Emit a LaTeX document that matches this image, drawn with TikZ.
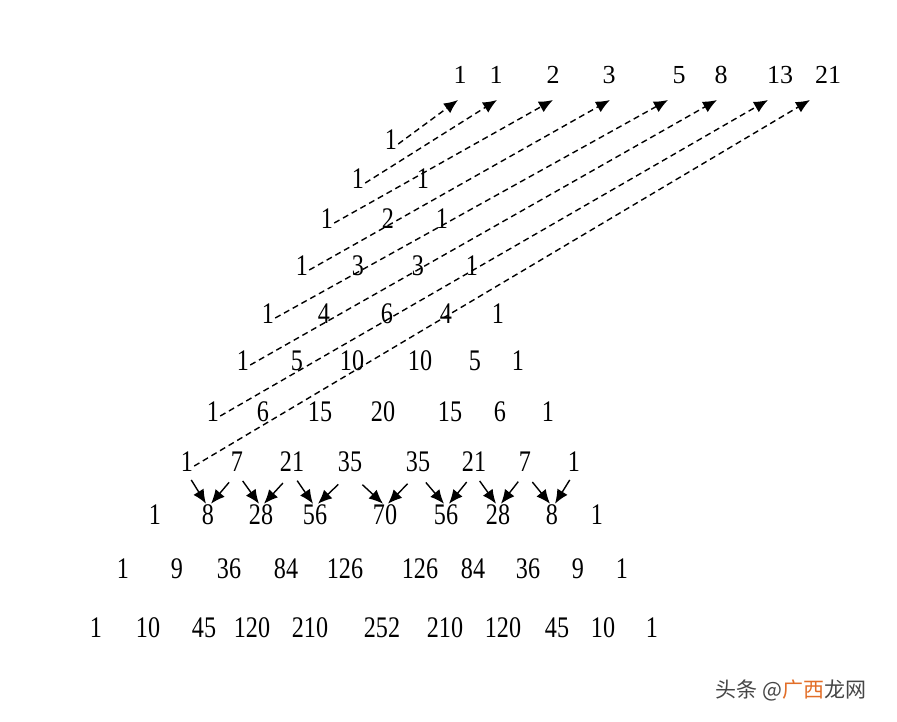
\documentclass[tikz,border=0pt]{standalone}
\usepackage{fontspec}
\setmainfont{Liberation Serif}
\newfontfamily\cjk{Noto Sans CJK SC}
\usetikzlibrary{arrows.meta,calc}
\newcommand{\tall}[1]{\scalebox{1.05}[1.3]{#1}}
\tikzset{
  >={Latex[length=14pt,width=12pt]},
  num/.style={inner sep=1pt, font=\fontsize{23}{26}\selectfont},
  fib/.style={inner sep=1pt, font=\fontsize{26}{29}\selectfont},
  fibline/.style={line width=1.4pt, dash pattern=on 6pt off 4pt},
  addline/.style={line width=1.4pt}
}
\definecolor{wmgray}{RGB}{70,70,70}
\definecolor{wmorange}{RGB}{226,110,40}
\begin{document}
\begin{tikzpicture}[x=1pt, y=-1pt]
\useasboundingbox (0,0) rectangle (897,721);
	% fibonacci numbers on top
	\foreach \x/\v [count=\i] in {460/1,496/1,553/2,609/3,679/5,721/8,780/13,828/21}
		\node[fib] (f\i) at (\x,75) {\v};
	\foreach \x [count=\i] in {458,497,553,610,668,717,768,810}
		\coordinate (t\i) at (\x,100);
	% pascal rows
	\foreach \x/\v [count=\i] in {391/1} \node[num] (r0-\i) at (\x,140) {\tall{\v}};
	\foreach \x/\v [count=\i] in {358/1,423/1} \node[num] (r1-\i) at (\x,179) {\tall{\v}};
	\foreach \x/\v [count=\i] in {327/1,388/2,442/1} \node[num] (r2-\i) at (\x,219) {\tall{\v}};
	\foreach \x/\v [count=\i] in {302/1,358/3,418/3,472/1} \node[num] (r3-\i) at (\x,266) {\tall{\v}};
	\foreach \x/\v [count=\i] in {268/1,324/4,387/6,446/4,498/1} \node[num] (r4-\i) at (\x,314) {\tall{\v}};
	\foreach \x/\v [count=\i] in {243/1,297/5,352/10,420/10,475/5,518/1} \node[num] (r5-\i) at (\x,361) {\tall{\v}};
	\foreach \x/\v [count=\i] in {213/1,263/6,320/15,383/20,450/15,500/6,548/1} \node[num] (r6-\i) at (\x,412) {\tall{\v}};
	\foreach \x/\v [count=\i] in {187/1,237/7,292/21,350/35,418/35,474/21,525/7,574/1} \node[num] (r7-\i) at (\x,462) {\tall{\v}};
	\foreach \x/\v [count=\i] in {155/1,208/8,261/28,315/56,385/70,446/56,498/28,552/8,597/1} \node[num] (r8-\i) at (\x,515) {\tall{\v}};
	\foreach \x/\v [count=\i] in {123/1,177/9,229/36,286/84,345/126,420/126,473/84,528/36,578/9,622/1} \node[num] (r9-\i) at (\x,569) {\tall{\v}};
	\foreach \x/\v [count=\i] in {96/1,148/10,204/45,252/120,310/210,382/252,445/210,503/120,557/45,603/10,652/1} \node[num] (r10-\i) at (\x,628) {\tall{\v}};
	% dashed diagonals up to the fibonacci numbers
	\foreach \n [evaluate=\n as \m using int(\n+1)] in {0,...,7}
		\draw[fibline,->] ([yshift=-4pt]r\n-1.east) -- (t\m);
	% sums from row 7 into row 8
	\foreach \i [evaluate=\i as \j using int(\i+1)] in {1,...,7} {
		\draw[addline,->] ($([xshift=-2pt]r8-\j.north)!28pt!(r7-\i.south)$) -- ([xshift=-2pt]r8-\j.north);
		\draw[addline,->] ($([xshift=3pt]r8-\j.north)!28pt!(r7-\j.south)$) -- ([xshift=3pt]r8-\j.north);
	}
	%watermark
	\node[font=\cjk\fontsize{21}{24}\selectfont, text=wmgray, anchor=west] (wm) at (712,690) {头条 @\textcolor{wmorange}{广西}龙网};
\end{tikzpicture}
\end{document}
